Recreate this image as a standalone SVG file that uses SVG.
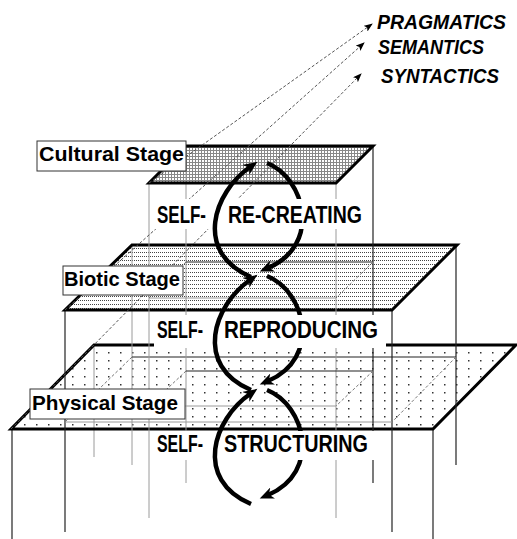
<svg xmlns="http://www.w3.org/2000/svg" width="517" height="539" viewBox="0 0 517 539">
<style>
.thin{stroke:#9a9a9a;stroke-width:1;fill:none}
.dark{stroke:#222;stroke-width:1.2;fill:none}
.fdash{stroke:#777;stroke-width:1;stroke-dasharray:3 2;fill:none}
.edge{stroke:#000;stroke-width:3;fill:none;stroke-linejoin:miter}
.loop{stroke:#000;stroke-width:4.5;fill:none;marker-end:url(#ah)}
.sem{stroke:#555;stroke-width:1;stroke-dasharray:3 2;fill:none;marker-end:url(#as)}
.knock{fill:#fff}
.big{font-family:"Liberation Sans",Arial,sans-serif;font-weight:bold;font-size:24px;fill:#000}
.lab{font-family:"Liberation Sans",Arial,sans-serif;font-weight:bold;font-size:21px;fill:#000}
.it{font-family:"Liberation Sans",Arial,sans-serif;font-weight:bold;font-style:italic;font-size:21px;fill:#000}
.lbox{fill:#fff;stroke:#333;stroke-width:1}
</style>
<defs>
<pattern id="pc" width="3" height="3" patternUnits="userSpaceOnUse"><rect width="3" height="1" fill="#888" shape-rendering="crispEdges"/><rect width="1" height="3" fill="#888" shape-rendering="crispEdges"/></pattern>
<pattern id="pb" width="4" height="4" patternUnits="userSpaceOnUse"><rect width="1" height="1" fill="#444" shape-rendering="crispEdges"/><rect x="2" width="1" height="1" fill="#444" shape-rendering="crispEdges"/></pattern>
<pattern id="pp" width="12" height="8" patternUnits="userSpaceOnUse"><rect width="1.5" height="1.5" fill="#333"/></pattern>
<marker id="ah" markerUnits="userSpaceOnUse" viewBox="0 0 16 14" markerWidth="16" markerHeight="14" refX="5" refY="6" orient="auto"><path d="M0,0 L14,6 L0,12 L4,6 Z" fill="#000"/></marker>
<marker id="as" markerUnits="userSpaceOnUse" viewBox="0 0 10 8" markerWidth="10" markerHeight="8" refX="8" refY="3.5" orient="auto"><path d="M0,0 L9,3.5 L0,7 L2,3.5 Z" fill="#000"/></marker>
<clipPath id="noText"><path clip-rule="evenodd" d="M0,0H517V539H0Z M154,199H367V229H154Z M154,315H386V348H154Z M154,431H376V460H154Z"/></clipPath>
</defs>

<g id="physical-stage">
<polygon points="94,345 516,345 433,429 11,429" fill="url(#pp)"/>
<line class="dark" x1="12" y1="429" x2="12" y2="539"/>
<line class="dark" x1="433" y1="429" x2="433" y2="539"/>
<line class="thin" x1="94" y1="345" x2="94" y2="457"/>
<polygon class="edge" points="94,345 516,345 433,429 11,429"/>
</g>

<g id="biotic-stage">
<polygon points="132,245 457,245 392,310 65,310" fill="url(#pb)"/>
<line class="dark" x1="65" y1="310" x2="65" y2="532"/>
<line class="dark" x1="392" y1="310" x2="392" y2="532"/>
<line class="thin" x1="132" y1="245" x2="132" y2="465"/>
<line class="dark" x1="456" y1="245" x2="456" y2="465"/>
<line class="dark" x1="132" y1="357" x2="456" y2="357"/>
<line class="thin" x1="65" y1="422" x2="392" y2="422"/>
<line class="fdash" x1="456" y1="357" x2="392" y2="422"/>
<line class="fdash" x1="132" y1="357" x2="65" y2="422"/>
<polygon class="edge" points="132,245 457,245 392,310 65,310"/>
</g>

<g id="cultural-stage">
<polygon points="186,146 373,146 336,183 149,183" fill="url(#pc)"/>
<line class="thin" x1="149" y1="183" x2="149" y2="518"/>
<line class="thin" x1="336" y1="183" x2="336" y2="518"/>
<line class="thin" x1="186" y1="146" x2="186" y2="483"/>
<line class="dark" x1="373" y1="146" x2="373" y2="483"/>
<line class="dark" x1="186" y1="262" x2="373" y2="262"/>
<line class="thin" x1="149" y1="298" x2="336" y2="298"/>
<line class="fdash" x1="373" y1="262" x2="336" y2="298"/>
<line class="fdash" x1="186" y1="262" x2="149" y2="298"/>
<line class="dark" x1="186" y1="371" x2="373" y2="371"/>
<line class="thin" x1="149" y1="406" x2="336" y2="406"/>
<line class="fdash" x1="373" y1="371" x2="336" y2="406"/>
<line class="fdash" x1="186" y1="371" x2="149" y2="406"/>
<polygon class="edge" points="186,146 373,146 336,183 149,183"/>
</g>

<g id="self-texts">
<g id="text-recreating">
<rect class="knock" x="154" y="199" width="213" height="30"/>
<text class="big" x="157" y="223" textLength="49" lengthAdjust="spacingAndGlyphs">SELF-</text>
<text class="big" x="228" y="223" textLength="134" lengthAdjust="spacingAndGlyphs">RE-CREATING</text>
</g>
<g id="text-reproducing">
<rect class="knock" x="154" y="315" width="232" height="33"/>
<text class="big" x="157" y="338" textLength="46" lengthAdjust="spacingAndGlyphs">SELF-</text>
<text class="big" x="224" y="338" textLength="154" lengthAdjust="spacingAndGlyphs">REPRODUCING</text>
</g>
<g id="text-structuring">
<rect class="knock" x="154" y="431" width="222" height="29"/>
<text class="big" x="157" y="452" textLength="46" lengthAdjust="spacingAndGlyphs">SELF-</text>
<text class="big" x="224" y="452" textLength="144" lengthAdjust="spacingAndGlyphs">STRUCTURING</text>
</g>
</g>

<g id="connectors">
<g clip-path="url(#noText)">
<line class="sem" x1="149" y1="183" x2="372" y2="24"/>
<line class="sem" x1="65" y1="310" x2="364" y2="43"/>
<line class="sem" x1="11" y1="429" x2="361" y2="74"/>
<path class="loop" d="M267,163 C305,178 322,245 268,268"/>
<path class="loop" d="M267,276 C305,291 322,358 268,381"/>
<path class="loop" d="M267,390 C305,405 322,472 268,495"/>
</g>
<path class="loop" d="M251,277 C193,252 214,192 250,167"/>
<path class="loop" d="M251,390 C193,365 214,305 250,280"/>
<path class="loop" d="M251,504 C193,479 214,419 250,394"/>
</g>

<g id="label-cultural">
<rect class="lbox" x="37" y="141" width="149" height="30"/>
<text class="lab" x="39" y="161" textLength="145" lengthAdjust="spacingAndGlyphs">Cultural Stage</text>
</g>
<g id="label-biotic">
<rect class="lbox" x="63" y="266" width="120" height="29"/>
<text class="lab" x="64" y="286" textLength="116" lengthAdjust="spacingAndGlyphs">Biotic Stage</text>
</g>
<g id="label-physical">
<rect class="lbox" x="30" y="389" width="155" height="30"/>
<text class="lab" x="32" y="410" textLength="146" lengthAdjust="spacingAndGlyphs">Physical Stage</text>
</g>
<g id="label-pragmatics"><text class="it" x="377" y="29" textLength="129" lengthAdjust="spacingAndGlyphs">PRAGMATICS</text></g>
<g id="label-semantics"><text class="it" x="378" y="54" textLength="106" lengthAdjust="spacingAndGlyphs">SEMANTICS</text></g>
<g id="label-syntactics"><text class="it" x="381" y="83" textLength="118" lengthAdjust="spacingAndGlyphs">SYNTACTICS</text></g>
</svg>
